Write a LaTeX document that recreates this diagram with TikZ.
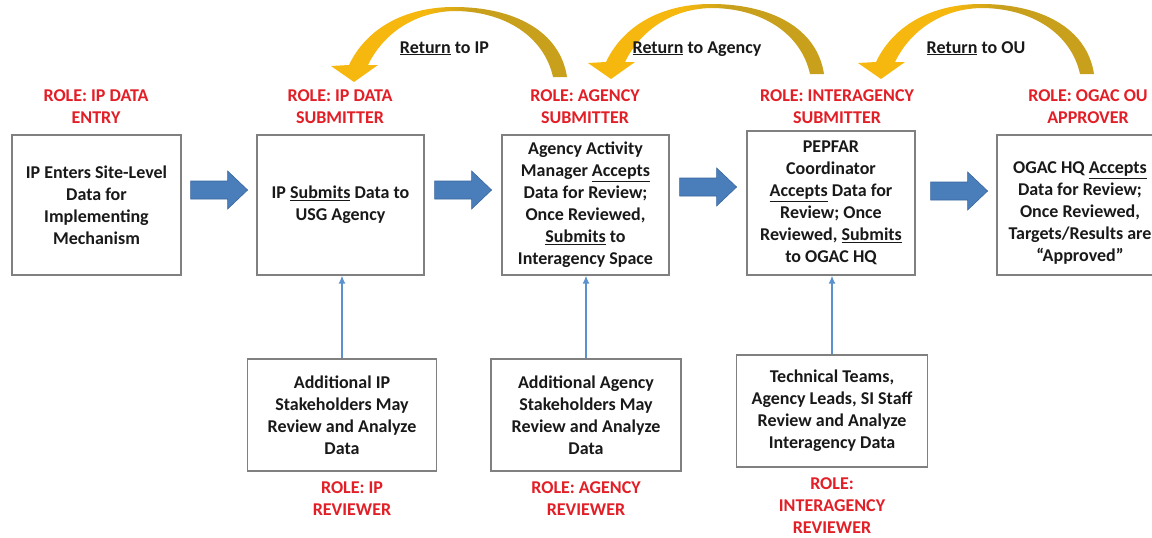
\documentclass[tikz,border=0pt]{standalone}
\usepackage{fontspec}
\setmainfont{Carlito}
\usetikzlibrary{calc,arrows.meta}
\definecolor{rolered}{RGB}{226,30,38}
\definecolor{boxgray}{RGB}{128,128,128}
\definecolor{arrowblue}{RGB}{74,126,187}
\definecolor{arrowblueedge}{RGB}{58,102,158}
\definecolor{upblue}{RGB}{91,145,205}
\definecolor{goldL}{RGB}{246,184,14}
\definecolor{goldR}{RGB}{200,160,28}
\definecolor{txt}{RGB}{25,25,25}
\pgfdeclarehorizontalshading{goldshade}{100bp}{color(0bp)=(goldL); color(45bp)=(goldL); color(55bp)=(goldR); color(100bp)=(goldR)}
\begin{document}
\begin{tikzpicture}[x=1pt,y=-1pt,
  font=\fontsize{18}{22}\selectfont\bfseries,
  box/.style={draw=boxgray,line width=1.2pt,fill=white,align=center,text=txt,inner sep=0pt},
  boxtext/.style={align=center,text=txt,inner sep=0pt},
  role/.style={text=rolered,align=center,inner sep=0pt},
  retlabel/.style={text=txt,inner sep=0pt,anchor=base},
  upline/.style={draw=upblue,line width=1.5pt,-{Latex[length=8pt,width=7pt]}},
  blockarrow/.pic={\path[fill=arrowblue,draw=arrowblueedge,line width=0.6pt]
     (0,-9) -- (37,-9) -- (37,-19) -- (57,0) -- (37,19) -- (37,9) -- (0,9) -- cycle;},
  curvedarrow/.pic={\path[shading=goldshade]
     (213,-4) .. controls (206,-50) and (160,-74) .. (100,-74)
     .. controls (50,-74) and (12,-52) .. (-5,-16)
     -- (-23,-15) -- (0,1) -- (24,-16) -- (14,-16)
     .. controls (28,-45) and (58,-69) .. (100,-70)
     .. controls (150,-70) and (190,-45) .. (199,-4) -- cycle;}
]
\useasboundingbox[fill=white] (0,0) rectangle (1152,538);

% main boxes
\node[box,minimum width=169pt,minimum height=140pt] (b1) at (96.5,205)
  {IP Enters Site-Level\\Data for\\Implementing\\Mechanism};
\node[box,minimum width=167pt,minimum height=140pt] (b2) at (340.5,205)
  {IP \underline{Submits} Data to\\USG Agency};
\node[box,minimum width=167pt,minimum height=140pt] (b3) at (585.5,205)
  {Agency Activity\\Manager \underline{Accepts}\\Data for Review;\\Once Reviewed,\\\underline{Submits} to\\Interagency Space};
\node[box,minimum width=168pt,minimum height=144pt] (b4) at (831,203)
  {PEPFAR\\Coordinator\\\underline{Accepts} Data for\\Review; Once\\Reviewed, \underline{Submits}\\to OGAC HQ};
\node[box,minimum width=166pt,minimum height=140pt] (b5) at (1080,205) {};
\node[boxtext] (t5) at (1080,213)
  {OGAC HQ \underline{Accepts}\\Data for Review;\\Once Reviewed,\\Targets/Results are\\“Approved”};

% reviewer boxes
\node[box,minimum width=189pt,minimum height=112pt] (b6) at (342,415)
  {Additional IP\\Stakeholders May\\Review and Analyze\\Data};
\node[box,minimum width=190pt,minimum height=112pt] (b7) at (586,415)
  {Additional Agency\\Stakeholders May\\Review and Analyze\\Data};
\node[box,minimum width=191pt,minimum height=112pt] (b8) at (832,411)
  {Technical Teams,\\Agency Leads, SI Staff\\Review and Analyze\\Interagency Data};

% reviewer connectors
\draw[upline] (b6.north) -- (b6.north |- b2.south);
\draw[upline] (b7.north) -- (b7.north |- b3.south);
\draw[upline] (b8.north) -- (b8.north |- b4.south);

% roles
\node[role] (r1) at (96,107) {ROLE: IP DATA\\ENTRY};
\node[role] (r2) at (340,107) {ROLE: IP DATA\\SUBMITTER};
\node[role] (r3) at (585,107) {ROLE: AGENCY\\SUBMITTER};
\node[role] (r4) at (837,107) {ROLE: INTERAGENCY\\SUBMITTER};
\node[role] (r5) at (1088,107) {ROLE: OGAC OU\\APPROVER};
\node[role] (r6) at (352,499) {ROLE: IP\\REVIEWER};
\node[role] (r7) at (586,499) {ROLE: AGENCY\\REVIEWER};
\node[role] (r8) at (832,505.5) {ROLE:\\INTERAGENCY\\REVIEWER};

% forward block arrows
\pic at ($(b1.east |- 0,190)+(9,0)$) {blockarrow};
\pic at ($(b2.east |- 0,190)+(10,0)$) {blockarrow};
\pic at ($(b3.east |- 0,187)+(10,0)$) {blockarrow};
\pic at ($(b4.east |- 0,191)+(15,0)$) {blockarrow};

% return arrows
\pic at (354,81) {curvedarrow};
\pic at (611,78) {curvedarrow};
\pic at (881,78) {curvedarrow};
\node[retlabel] (l1) at (444.5,53) {\underline{Return} to IP};
\node[retlabel] (l2) at (697,53) {\underline{Return} to Agency};
\node[retlabel] (l3) at (976,53) {\underline{Return} to OU};
\end{tikzpicture}
\end{document}
